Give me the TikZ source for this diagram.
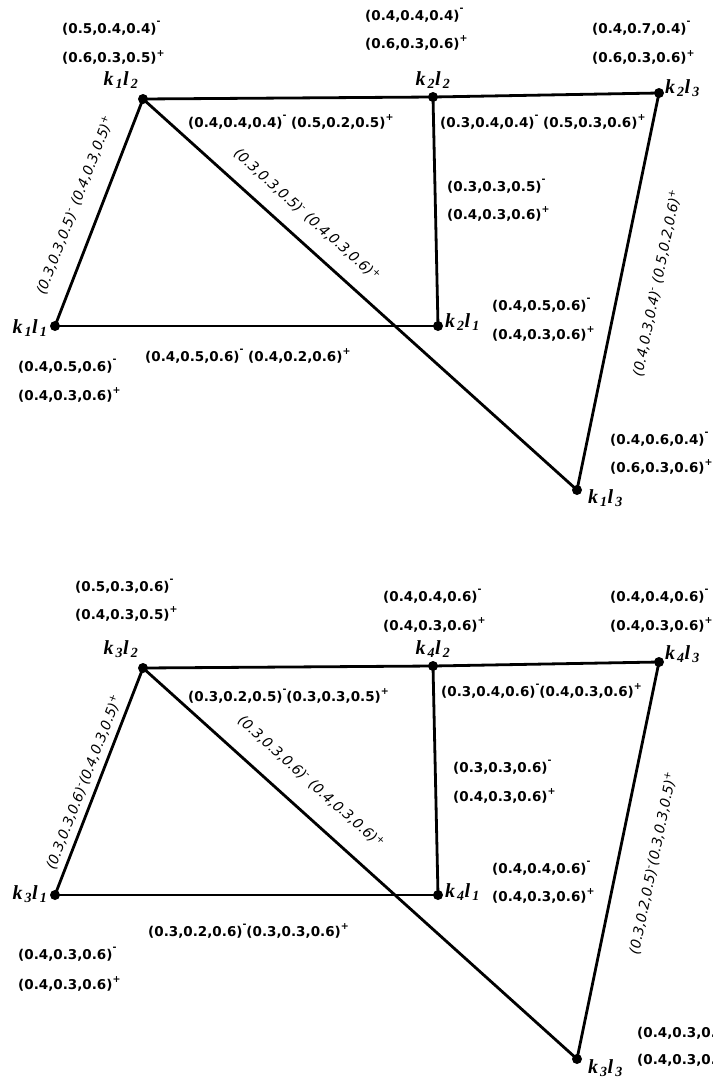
\documentclass[tikz,border=0pt]{standalone}
\usepackage{fontspec}
\setmainfont{DejaVu Sans}
\newfontfamily\vtxfont{Liberation Serif}
\newcommand{\xm}{\raisebox{0.62em}{\fontsize{9.5}{9.5}\selectfont -}}
\newcommand{\xp}{\raisebox{0.45em}{\fontsize{9.5}{9.5}\selectfont +}}
\newcommand{\kl}[2]{k\kern2pt\textsubscript{#1}l\kern2pt\textsubscript{#2}}
\tikzset{
  vtx/.style={circle, fill=black, inner sep=0pt, minimum size=10pt},
  edge/.style={line width=2.8pt},
  lab/.style={font=\bfseries\fontsize{13.5}{15}\selectfont, inner sep=0pt, anchor=base west},
  rlab/.style={font=\itshape\fontsize{14}{16}\selectfont, inner sep=0pt},
  vlab/.style={font=\vtxfont\bfseries\itshape\fontsize{20}{22}\selectfont, inner sep=0pt},
}
\begin{document}
\begin{tikzpicture}[x=1pt,y=-1pt]
\useasboundingbox (0,0) rectangle (712,1084);
% ---------------- top graph ----------------
\node[vtx] (k1l2) at (143,99) {};
\node[vtx] (k2l2) at (433,97) {};
\node[vtx] (k2l3) at (659,93) {};
\node[vtx] (k1l1) at (55,326) {};
\node[vtx] (k2l1) at (438,326) {};
\node[vtx] (k1l3) at (577,490) {};
\draw[edge] (k1l2.center) -- (k2l2.center) -- (k2l3.center);
\draw[edge] (k2l2.center) -- (k2l1.center);
\draw[edge] (k1l1.center) -- (k2l1.center);
\draw[edge] (k1l1.center) -- (k1l2.center);
\draw[edge] (k1l2.center) -- (k1l3.center);
\draw[edge] (k1l3.center) -- (k2l3.center);
\node[vlab, anchor=base] (t12) at (121,85) {\kl12};
\node[vlab, anchor=base] (t22) at (433,85) {\kl22};
\node[vlab, anchor=base west] (t23) at (665,93) {\kl23};
\node[vlab, anchor=base] (t11) at (30,333) {\kl11};
\node[vlab, anchor=base west] (t21) at (445,327) {\kl21};
\node[vlab, anchor=base west] (t13) at (588,503) {\kl13};
\node[lab] (a1) at (62,33) {(0.5,0.4,0.4)\xm};
\node[lab] (a2) at (62,62.5) {(0.6,0.3,0.5)\xp};
\node[lab] (a3) at (365,20) {(0.4,0.4,0.4)\xm};
\node[lab] (a4) at (365,48) {(0.6,0.3,0.6)\xp};
\node[lab] (a5) at (592,33) {(0.4,0.7,0.4)\xm};
\node[lab] (a6) at (592,62.5) {(0.6,0.3,0.6)\xp};
\node[lab] (a7) at (188,127) {(0.4,0.4,0.4)\xm{} (0.5,0.2,0.5)\xp};
\node[lab] (a8) at (440,127) {(0.3,0.4,0.4)\xm{} (0.5,0.3,0.6)\xp};
\node[lab] (a9) at (447,191) {(0.3,0.3,0.5)\xm};
\node[lab] (a10) at (447,219) {(0.4,0.3,0.6)\xp};
\node[lab] (a11) at (492,310) {(0.4,0.5,0.6)\xm};
\node[lab] (a12) at (492,339) {(0.4,0.3,0.6)\xp};
\node[lab] (a13) at (18,371) {(0.4,0.5,0.6)\xm};
\node[lab] (a14) at (18,400) {(0.4,0.3,0.6)\xp};
\node[lab] (a15) at (145,361) {(0.4,0.5,0.6)\xm{} (0.4,0.2,0.6)\xp};
\node[lab] (a16) at (610,444) {(0.4,0.6,0.4)\xm};
\node[lab] (a17) at (610,472) {(0.6,0.3,0.6)\xp};
\node[rlab, rotate=68.8] (r1) at (75,205) {(0.3,0.3,0.5)\textsuperscript{-} (0.4,0.3,0.5)\textsuperscript{+}};
\node[rlab, rotate=-42] (r2) at (307,215) {(0.3,0.3,0.5)\textsuperscript{-} (0.4,0.3,0.6)\textsuperscript{+}};
\node[rlab, rotate=78.3] (r3) at (657,283) {(0.4,0.3,0.4)\textsuperscript{-} (0.5,0.2,0.6)\textsuperscript{+}};
% ---------------- bottom graph ----------------
\node[vtx] (k3l2) at (143,668) {};
\node[vtx] (k4l2) at (433,666) {};
\node[vtx] (k4l3) at (659,662) {};
\node[vtx] (k3l1) at (55,895) {};
\node[vtx] (k4l1) at (438,895) {};
\node[vtx] (k3l3) at (577,1059) {};
\draw[edge] (k3l2.center) -- (k4l2.center) -- (k4l3.center);
\draw[edge] (k4l2.center) -- (k4l1.center);
\draw[edge] (k3l1.center) -- (k4l1.center);
\draw[edge] (k3l1.center) -- (k3l2.center);
\draw[edge] (k3l2.center) -- (k3l3.center);
\draw[edge] (k3l3.center) -- (k4l3.center);
\node[vlab, anchor=base] (t32) at (121,654) {\kl32};
\node[vlab, anchor=base] (t42) at (433,654) {\kl42};
\node[vlab, anchor=base west] (t43) at (665,659) {\kl43};
\node[vlab, anchor=base] (t31) at (30,899) {\kl31};
\node[vlab, anchor=base west] (t41) at (445,897) {\kl41};
\node[vlab, anchor=base west] (t33) at (588,1073) {\kl33};
\node[lab] (b1) at (75,591) {(0.5,0.3,0.6)\xm};
\node[lab] (b2) at (75,619) {(0.4,0.3,0.5)\xp};
\node[lab] (b3) at (383,601) {(0.4,0.4,0.6)\xm};
\node[lab] (b4) at (383,630) {(0.4,0.3,0.6)\xp};
\node[lab] (b5) at (610,601) {(0.4,0.4,0.6)\xm};
\node[lab] (b6) at (610,630) {(0.4,0.3,0.6)\xp};
\node[lab] (b7) at (188,701) {(0.3,0.2,0.5)\xm(0.3,0.3,0.5)\xp};
\node[lab] (b8) at (441,696) {(0.3,0.4,0.6)\xm(0.4,0.3,0.6)\xp};
\node[lab] (b9) at (453,772) {(0.3,0.3,0.6)\xm};
\node[lab] (b10) at (453,801) {(0.4,0.3,0.6)\xp};
\node[lab] (b11) at (492,873) {(0.4,0.4,0.6)\xm};
\node[lab] (b12) at (492,901) {(0.4,0.3,0.6)\xp};
\node[lab] (b13) at (18,959) {(0.4,0.3,0.6)\xm};
\node[lab] (b14) at (18,989) {(0.4,0.3,0.6)\xp};
\node[lab] (b15) at (148,936) {(0.3,0.2,0.6)\xm(0.3,0.3,0.6)\xp};
\node[lab] (b16) at (637,1037) {(0.4,0.3,0.};
\node[lab] (b17) at (637,1064) {(0.4,0.3,0.};
\node[rlab, rotate=68.8] (s1) at (84,782) {(0.3,0.3,0.6)\textsuperscript{-}(0.4,0.3,0.5)\textsuperscript{+}};
\node[rlab, rotate=-42] (s2) at (311,782) {(0.3,0.3,0.6)\textsuperscript{-} (0.4,0.3,0.6)\textsuperscript{+}};
\node[rlab, rotate=78.3] (s3) at (653,863) {(0.3,0.2,0.5)\textsuperscript{-}(0.3,0.3,0.5)\textsuperscript{+}};
\end{tikzpicture}
\end{document}
